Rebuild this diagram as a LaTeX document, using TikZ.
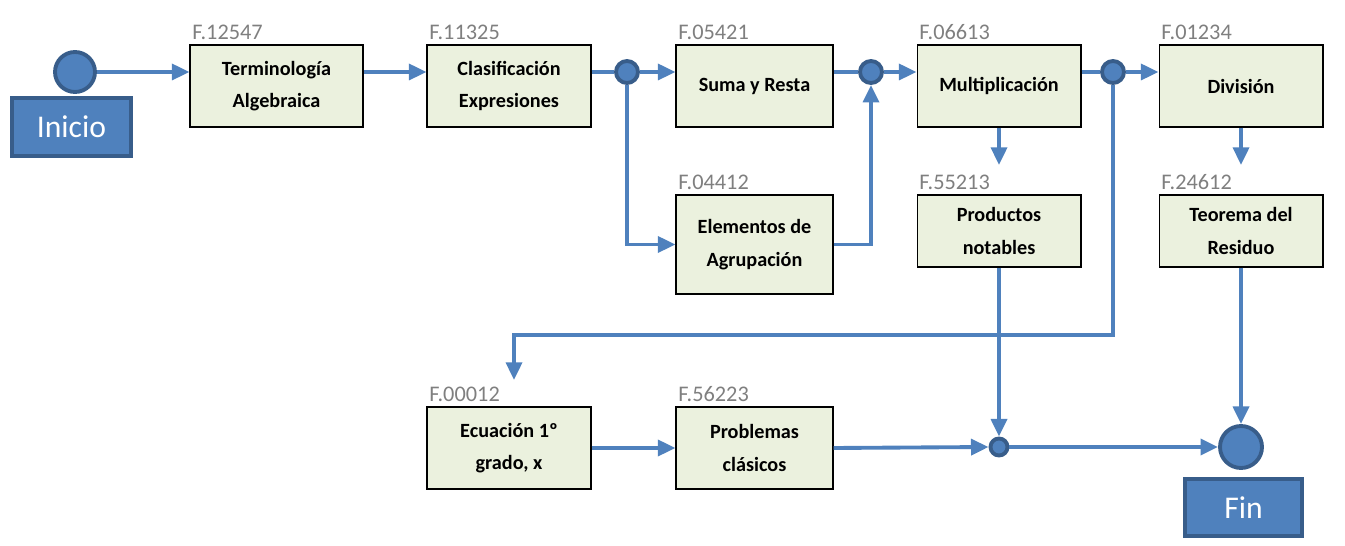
\documentclass[tikz,border=0pt]{standalone}
\usepackage{fontspec}
\setsansfont{Carlito}
\usetikzlibrary{arrows.meta}
\definecolor{flowblue}{RGB}{79,129,189}
\definecolor{darkblue}{RGB}{56,93,138}
\definecolor{boxgreen}{RGB}{235,241,222}
\definecolor{codegray}{RGB}{127,127,127}
\begin{document}
\begin{tikzpicture}[x=0.02cm, y=-0.02cm,
    topic/.style={draw=black, line width=0.6pt, fill=boxgreen, align=center,
        inner sep=0pt, font=\sffamily\bfseries\fontsize{11.5}{18.5}\selectfont},
    code/.style={anchor=south west, inner xsep=1.5pt, inner ysep=2.5pt,
        text=codegray, font=\sffamily\fontsize{12.7}{12.7}\selectfont},
    flow/.style={flowblue, line width=2.2pt, -{Triangle[length=10pt,width=9pt]}},
    link/.style={flowblue, line width=2.2pt},
    joint/.style={circle, draw=darkblue, line width=2.2pt, fill=flowblue, inner sep=0pt},
    endbox/.style={draw=darkblue, line width=1.8pt, fill=flowblue, text=white,
        font=\sffamily\fontsize{18}{18}\selectfont}]
    \useasboundingbox (0,0) rectangle (1345,546);

    % Start and end
    \node[joint, minimum size=0.8cm] (start) at (75,72) {};
    \node[endbox, minimum width=2.38cm, minimum height=1.16cm] (inicio) at (71.5,127) {Inicio};
    \node[joint, minimum size=0.84cm] (finc) at (1241,447) {};
    \node[endbox, minimum width=2.34cm, minimum height=1.14cm] (fin) at (1243.5,507.5) {Fin};

    % First row
    \node[topic, minimum width=3.46cm, minimum height=1.64cm] (term) at (276.5,86) {Terminología\\Algebraica};
    \node[topic, minimum width=3.28cm, minimum height=1.64cm] (clas) at (509,86) {Clasificación\\Expresiones};
    \node[topic, minimum width=3.14cm, minimum height=1.64cm] (suma) at (754.5,86) {Suma y Resta};
    \node[topic, minimum width=3.28cm, minimum height=1.64cm] (mult) at (999,86) {Multiplicación};
    \node[topic, minimum width=3.28cm, minimum height=1.64cm] (divi) at (1241,86) {División};

    % Second row
    \node[topic, minimum width=3.14cm, minimum height=1.98cm] (elem) at (754.5,244.5) {Elementos de\\Agrupación};
    \node[topic, minimum width=3.28cm, minimum height=1.44cm] (prod) at (999,231) {Productos\\notables};
    \node[topic, minimum width=3.28cm, minimum height=1.44cm] (teo) at (1241,231) {Teorema del\\Residuo};

    % Third row
    \node[topic, minimum width=3.28cm, minimum height=1.64cm] (ecu) at (509,448) {Ecuación 1º\\grado, x};
    \node[topic, minimum width=3.14cm, minimum height=1.64cm] (prob) at (754.5,448) {Problemas\\clásicos};

    % Codes above the boxes
    \node[code] (cterm) at (term.north west) {F.12547};
    \node[code] (cclas) at (clas.north west) {F.11325};
    \node[code] (csuma) at (suma.north west) {F.05421};
    \node[code] (cmult) at (mult.north west) {F.06613};
    \node[code] (cdivi) at (divi.north west) {F.01234};
    \node[code] (celem) at (elem.north west) {F.04412};
    \node[code] (cprod) at (prod.north west) {F.55213};
    \node[code] (cteo) at (teo.north west) {F.24612};
    \node[code] (cecu) at (ecu.north west) {F.00012};
    \node[code] (cprob) at (prob.north west) {F.56223};

    % Junctions
    \node[joint, minimum size=0.44cm] (j1) at (627,72) {};
    \node[joint, minimum size=0.44cm] (j2) at (871,72) {};
    \node[joint, minimum size=0.44cm] (j3) at (1113,72) {};
    \node[joint, minimum size=0.34cm] (j4) at (999,447) {};
    \coordinate (bend) at (514,335);
    \coordinate (ecuin) at (514,380);
    \coordinate (prodin) at (999,165);
    \coordinate (teoin) at (1241,165);

    % Arrows
    \draw[flow] (start) -- (term.west |- start);
    \draw[flow] (term.east |- start) -- (clas.west |- start);
    \draw[link] (clas.east |- j1) -- (j1);
    \draw[flow] (j1) -- (suma.west |- j1);
    \draw[flow] (j1) |- (elem.west);
    \draw[link] (suma.east |- j2) -- (j2);
    \draw[flow] (elem.east) -| (j2.south);
    \draw[flow] (j2) -- (mult.west |- j2);
    \draw[link] (mult.east |- j3) -- (j3);
    \draw[flow] (j3) -- (divi.west |- j3);
    \draw[flow] (mult.south) -- (prodin);
    \draw[flow] (divi.south) -- (teoin);
    \draw[flow] (j3) |- (bend) -- (ecuin);
    \draw[flow] (ecu.east) -- (prob.west);
    \draw[flow] (prob.east) -- (j4.west);
    \draw[flow] (prod.south) -- (j4.north);
    \draw[flow] (j4) -- (finc.west);
    \draw[flow] (teo.south) -- (finc.north);
\end{tikzpicture}
\end{document}
